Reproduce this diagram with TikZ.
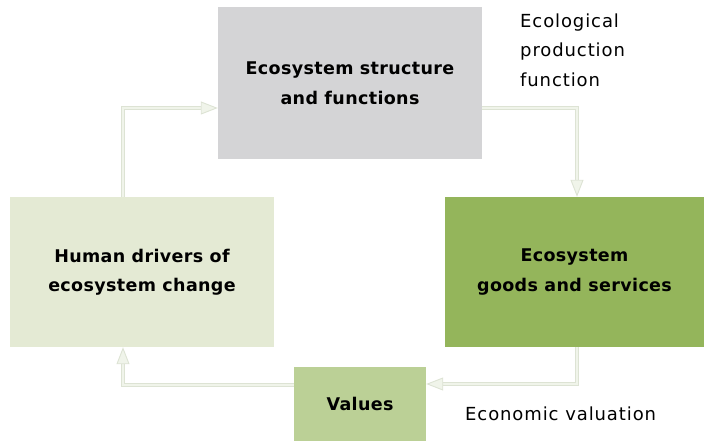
\documentclass[tikz,border=0pt]{standalone}
\usepackage{fontspec}
\setmainfont{DejaVu Sans}
\newfontfamily\notefont{DejaVu Sans}[LetterSpace=5]
\newfontfamily\stagefont{DejaVu Sans}[LetterSpace=2]
\usetikzlibrary{arrows.meta}
\definecolor{structgray}{HTML}{D4D4D6}
\definecolor{drivergreen}{HTML}{E4EAD4}
\definecolor{goodsgreen}{HTML}{94B55B}
\definecolor{valuegreen}{HTML}{BBD096}
\definecolor{flowfill}{HTML}{F0F4EA}
\definecolor{flowedge}{HTML}{DDE3D4}
\tikzset{
  stage/.style={rectangle,inner sep=0pt,align=center,
    font=\stagefont\fontsize{17.5}{29.5}\selectfont\bfseries},
  flow/.style={draw=flowedge,line width=0.9pt,double=flowfill,double distance=2.2pt,
    -{Triangle[length=17pt,width=13pt,fill=flowfill]}},
  note/.style={anchor=west,inner sep=0pt,align=left,
    font=\notefont\fontsize{18}{29.5}\selectfont}
}
\begin{document}
\begin{tikzpicture}[x=1pt,y=-1pt]
\useasboundingbox (0,0) rectangle (705,444);
% Kaesten
\node[stage,fill=structgray,minimum width=264pt,minimum height=152pt]
  (struct) at (350,83) {Ecosystem structure\\and functions};
\node[stage,fill=drivergreen,minimum width=264pt,minimum height=150pt]
  (drivers) at (142,272) {Human drivers of\\ecosystem change};
\node[stage,fill=goodsgreen,minimum width=259pt,minimum height=150pt]
  (goods) at (574.5,272) {Ecosystem\\goods and services};
\node[stage,fill=valuegreen,minimum width=132pt,minimum height=74pt]
  (values) at (360,404) {Values};
% Pfeile im Uhrzeigersinn
\draw[flow] ([xshift=-19pt]drivers.north) |- ([yshift=-25pt]struct.west);
\draw[flow] ([yshift=-25pt]struct.east) -| ([xshift=2.5pt]goods.north);
\draw[flow] ([xshift=2.5pt]goods.south) |- ([yshift=20pt]values.east);
\draw[flow] ([yshift=19pt]values.west) -| ([xshift=-19pt]drivers.south);
% Beschriftungen
\node[note] (production) at (520,50) {Ecological\\production\\function};
\node[note] (valuation) at (465,414) {Economic valuation};
\end{tikzpicture}
\end{document}
